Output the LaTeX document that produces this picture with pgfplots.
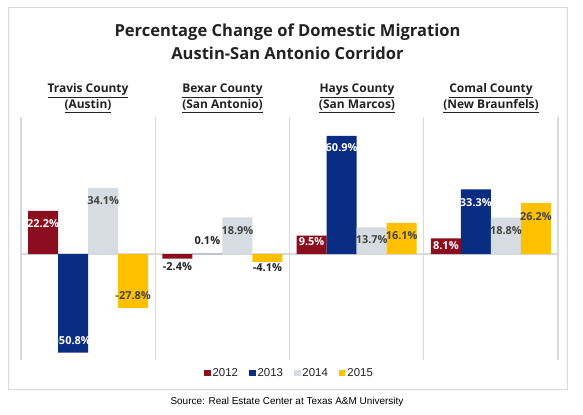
\documentclass[border=0pt]{standalone}
\usepackage{fontspec}
\setmainfont{Open Sans}
\newfontfamily\legfont{Liberation Sans}
\usepackage{pgfplots}
\usepackage{pgfplotstable}
\pgfplotsset{compat=1.18}
\definecolor{cRed}{HTML}{8B0D1F}
\definecolor{cBlue}{HTML}{0A2D84}
\definecolor{cGray}{HTML}{D6DCE1}
\definecolor{cGold}{HTML}{FFC000}
\definecolor{lineGray}{HTML}{D9D9D9}
\definecolor{txtDark}{HTML}{222222}
\colorlet{tcol0}{white}
\definecolor{tcol1}{HTML}{222222}
\definecolor{tcol2}{HTML}{444444}

% x = county (0 Travis, 1 Bexar, 2 Hays, 3 Comal); off = label offset (bp); tc = label colour index
\pgfplotstableread{
x y off tc
0 22.2 -13 0
1 -2.4 -8.3 1
2 9.5 -6.4 0
3 8.1 -7.7 0
}\dA
\pgfplotstableread{
x y off tc
0 -50.8 11.6 0
1 0.1 12.8 1
2 60.9 -12 0
3 33.3 -13.6 0
}\dB
\pgfplotstableread{
x y off tc
0 34.1 -13 2
1 18.9 -13.7 2
2 13.7 -12.6 2
3 18.8 -13.5 2
}\dC
\pgfplotstableread{
x y off tc
0 -27.8 12 2
1 -4.1 -5.3 1
2 16.1 -13 2
3 26.2 -13.5 2
}\dD

\pgfplotsset{
  barlab/.style={
    forget plot, draw=none, mark=none,
    visualization depends on={\thisrow{off} \as \myoff},
    visualization depends on={\thisrow{tc} \as \mytc},
    nodes near coords={\pgfmathtruncatemacro\tcn{\mytc}\color{tcol\tcn}\pgfmathprintnumber[fixed,fixed zerofill,precision=1,assume math mode=true]{\pgfplotspointmeta}\%},
    every node near coord/.append style={anchor=center, yshift=\myoff bp,
      font=\bfseries\fontsize{11}{13}\selectfont, inner sep=0pt},
  },
}

\begin{document}
\begin{tikzpicture}
\useasboundingbox (0,0) rectangle (583bp,415bp);
\fill[white] (0,0) rectangle (583bp,415bp);
\draw[lineGray, line width=1bp] (8bp,25bp) rectangle (567bp,407bp);

\node[anchor=base, font=\bfseries\fontsize{16.6}{20}\selectfont, text=txtDark] at (287.5bp,378.7bp) {Percentage Change of Domestic Migration};
\node[anchor=base, font=\bfseries\fontsize{16.6}{20}\selectfont, text=txtDark] at (287.5bp,355.7bp) {Austin-San Antonio Corridor};

\begin{axis}[
  at={(21bp,55bp)}, anchor=south west,
  scale only axis, width=537bp, height=243bp,
  xmin=-0.5, xmax=3.5, ymin=-54.6, ymax=70.6,
  axis line style={draw=none},
  xtick={-0.5,0.5,1.5,2.5,3.5}, ytick={0},
  xticklabels={}, yticklabels={},
  major tick length=0pt,
  xmajorgrids, ymajorgrids,
  grid style={lineGray, line width=1.2bp},
  clip=false,
  legend style={draw=none, fill=none, legend columns=-1,
    at={(0.5,0)}, anchor=center, yshift=-13bp,
    font=\legfont\fontsize{11.5}{13}\selectfont, text=txtDark,
    /tikz/every even column/.append style={column sep=9bp}},
]
\addplot[ybar, bar width=0.2235, bar shift=-0.3353, fill=cRed, draw=none,
  legend image code/.code={\fill[cRed] (0bp,-3.2bp) rectangle (6.5bp,3.2bp);}] table[x=x,y=y] {\dA};
\addplot[ybar, bar width=0.2235, bar shift=-0.1118, fill=cBlue, draw=none,
  legend image code/.code={\fill[cBlue] (0bp,-3.2bp) rectangle (6.5bp,3.2bp);}] table[x=x,y=y] {\dB};
\addplot[ybar, bar width=0.2235, bar shift=0.1118, fill=cGray, draw=none,
  legend image code/.code={\fill[cGray] (0bp,-3.2bp) rectangle (6.5bp,3.2bp);}] table[x=x,y=y] {\dC};
\addplot[ybar, bar width=0.2235, bar shift=0.3353, fill=cGold, draw=none,
  legend image code/.code={\fill[cGold] (0bp,-3.2bp) rectangle (6.5bp,3.2bp);}] table[x=x,y=y] {\dD};
\legend{2012,2013,2014,2015}
% value labels
\addplot[barlab] table[x expr=\thisrow{x}-0.3353, y=y] {\dA};
\addplot[barlab] table[x expr=\thisrow{x}-0.1118, y=y] {\dB};
\addplot[barlab] table[x expr=\thisrow{x}+0.1118, y=y] {\dC};
\addplot[barlab] table[x expr=\thisrow{x}+0.3353, y=y] {\dD};
\end{axis}

\foreach \cx/\la/\lb in {88/Travis County/(Austin), 222.5/Bexar County/(San Antonio), 357/Hays County/(San Marcos), 491/Comal County/(New Braunfels)}{
  \node[anchor=base, font=\bfseries\fontsize{12}{14}\selectfont, text=txtDark] at (\cx bp,322.5bp) {\underline{\la}};
  \node[anchor=base, font=\bfseries\fontsize{12}{14}\selectfont, text=txtDark] at (\cx bp,306.5bp) {\underline{\lb}};
}

\node[font=\legfont\fontsize{10}{12}\selectfont, text=black] at (287bp,13bp) {Source: Real Estate Center at Texas A\&M University};
\end{tikzpicture}
\end{document}
